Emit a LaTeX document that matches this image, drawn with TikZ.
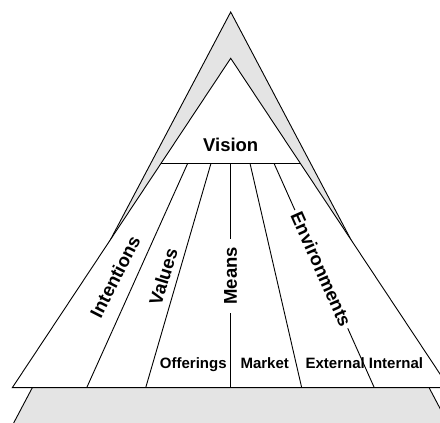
\documentclass[tikz,border=0pt]{standalone}
\usepackage{fontspec}
\setmainfont{Liberation Sans}
\usetikzlibrary{calc}
\definecolor{backface}{RGB}{228,228,228}
\begin{document}
\begin{tikzpicture}[x=1pt,y=1pt,
  edge/.style={draw=black,line width=0.9pt,line join=miter},
  biglabel/.style={font=\fontsize{18.5}{20}\selectfont\bfseries,inner sep=0pt},
  smalllabel/.style={font=\fontsize{15}{17}\selectfont\bfseries,inner sep=0pt,anchor=base},
  cutlabel/.style={biglabel,fill=white,inner xsep=8pt,inner ysep=2pt}]
\useasboundingbox (0,0) rectangle (440,423);
\clip (0,0) rectangle (440,423);

% back face of the pyramid
\coordinate (O)  at (230.7,411);
\coordinate (OL) at (3.1,-20);
\coordinate (OR) at (458.3,-20);
\filldraw[edge,fill=backface] (OL) -- (O) -- (OR) -- cycle;

% front face
\coordinate (A)  at (230.7,364.7);
\coordinate (BL) at (12.3,35.3);
\coordinate (BR) at (449.1,35.3);
\filldraw[edge,fill=white] (BL) -- (A) -- (BR) -- cycle;

% base of the vision cap
\coordinate (VL) at ($(A)!0.3188!(BL)$);
\coordinate (VR) at ($(A)!0.3188!(BR)$);
\draw[edge] (VL) -- (VR);

% dividers between the columns
\coordinate (t1) at (187.7,259.7); \coordinate (b1) at (86.7,35.3);
\coordinate (t2) at (211.0,259.7); \coordinate (b2) at (145.7,35.3);
\coordinate (t3) at (230.5,259.7); \coordinate (b3) at (230.5,35.3);
\coordinate (t4) at (250.0,259.7); \coordinate (b4) at (301.7,35.3);
\coordinate (t5) at (274.0,259.7); \coordinate (b5) at (374.3,35.3);
\foreach \i in {1,...,5} \draw[edge] (t\i) -- (b\i);

% labels
\node[biglabel,anchor=base] (vision) at (230.7,271.3) {Vision};
\node[biglabel,rotate=63] (intentions) at (115,146.3) {Intentions};
\node[biglabel,rotate=73] (values) at (163.3,146.3) {Values};
\node[cutlabel,rotate=90] (means) at ($(t3)!0.501!(b3)$) {Means};
\node[cutlabel,rotate=-66,inner xsep=3pt] (environments) at ($(t5)!0.472!(b5)$) {Environments};

\node[smalllabel] (offerings) at (193.3,54.7) {Offerings};
\node[smalllabel] (market)    at (264.7,54.7) {Market};
\node[smalllabel] (external)  at (335.2,54.7) {External};
\node[smalllabel] (internal)  at (396.0,54.7) {Internal};
\end{tikzpicture}
\end{document}
